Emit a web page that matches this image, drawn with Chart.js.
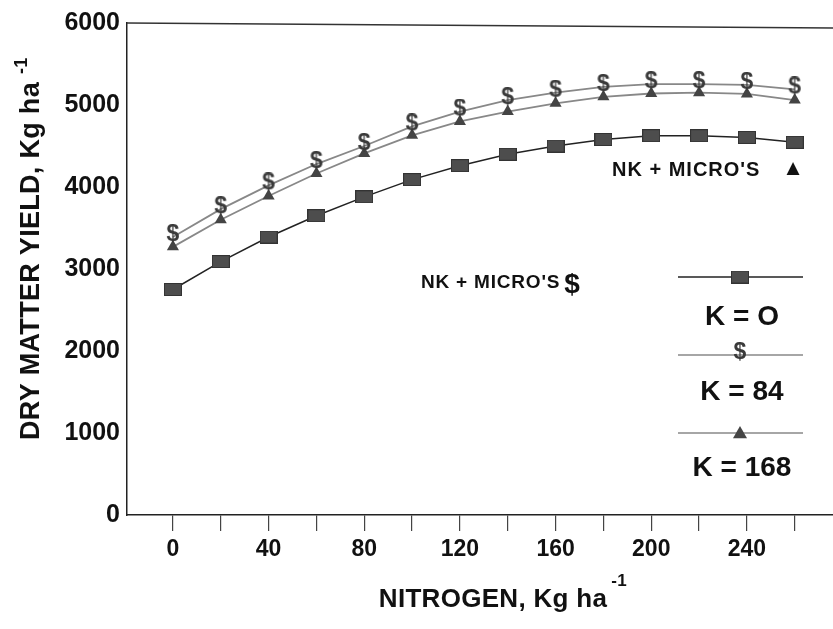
<!DOCTYPE html>
<html>
<head>
<meta charset="utf-8">
<script src="https://cdn.jsdelivr.net/npm/chart.js@4.4.1/dist/chart.umd.min.js"></script>
<style>
  html, body { margin: 0; padding: 0; background: #fff; }
  canvas { display: block; }
</style>
</head>
<body>
<canvas id="yieldChart" width="833" height="629"></canvas>
<script>
// Nitrogen rates (kg/ha) and dry matter yields (kg/ha)
const nitrogen = [0, 20, 40, 60, 80, 100, 120, 140, 160, 180, 200, 220, 240, 260];
const yieldK0   = [2750, 3090, 3390, 3650, 3880, 4090, 4260, 4400, 4500, 4580, 4625, 4625, 4605, 4545];
const yieldK84  = [3390, 3730, 4020, 4280, 4500, 4740, 4920, 5060, 5150, 5220, 5255, 5255, 5245, 5190];
const yieldK168 = [3270, 3600, 3890, 4165, 4410, 4630, 4800, 4920, 5020, 5100, 5140, 5150, 5135, 5060];
const yTicks = [0, 1000, 2000, 3000, 4000, 5000, 6000];
const seriesLabels = ['K = O', 'K = 84', 'K = 168'];
const xTitle = 'NITROGEN, Kg ha';
const yTitle = 'DRY MATTER YIELD, Kg ha';
const unitSup = '-1';
const noteTriangle = "NK + MICRO'S";
const noteDollar = "NK + MICRO'S";

const FONT = '"Liberation Sans", Arial, Helvetica, sans-serif';

// marker images
function squareMarker() {
  const c = document.createElement('canvas');
  c.width = 18; c.height = 13;
  const g = c.getContext('2d');
  g.fillStyle = '#4d4d4d';
  g.fillRect(0, 0, 18, 13);
  g.strokeStyle = '#333';
  g.strokeRect(0.5, 0.5, 17, 12);
  return c;
}
function dollarMarker() {
  const c = document.createElement('canvas');
  c.width = 18; c.height = 26;
  const g = c.getContext('2d');
  g.fillStyle = '#3a3a3a';
  g.font = 'bold 23px ' + FONT;
  g.textAlign = 'center';
  g.textBaseline = 'middle';
  g.fillText('$', 9, 11);
  return c;
}
const sqImg = squareMarker();
const dolImg = dollarMarker();

const toPoints = arr => arr.map((v, i) => ({ x: nitrogen[i], y: v }));

// titles, frame, legend and notes
const extrasPlugin = {
  id: 'extras',
  afterDraw(chart) {
    const ctx = chart.ctx;
    const a = chart.chartArea;
    ctx.save();

    // top frame line
    ctx.strokeStyle = '#333';
    ctx.lineWidth = 1.5;
    ctx.beginPath();
    ctx.moveTo(a.left, a.top);
    ctx.lineTo(a.right, a.top + 5);
    ctx.stroke();

    ctx.fillStyle = '#111';
    ctx.textBaseline = 'middle';

    // x title with superscript
    ctx.font = 'bold 26px ' + FONT;
    ctx.letterSpacing = '0.3px';
    const xw = ctx.measureText(xTitle).width;
    const xc = 493, xy = 600;
    ctx.textAlign = 'left';
    ctx.fillText(xTitle, xc - xw / 2, xy);
    ctx.font = 'bold 17px ' + FONT;
    ctx.fillText(unitSup, xc + xw / 2 + 4, xy - 19);

    // y title with superscript
    ctx.save();
    ctx.translate(32, 245);
    ctx.rotate(-Math.PI / 2);
    ctx.font = 'bold 27px ' + FONT;
    const yw = ctx.measureText(yTitle).width;
    ctx.fillText(yTitle, -yw / 2 - 16, 0);
    ctx.font = 'bold 18px ' + FONT;
    ctx.fillText(unitSup, yw / 2 - 8, -10);
    ctx.restore();
    ctx.letterSpacing = '0px';

    // legend
    const legX1 = 678, legX2 = 803, legC = 740;
    const lineY = [277, 355, 433];
    const textY = [317, 392, 468];
    chart.data.datasets.forEach((ds, i) => {
      ctx.strokeStyle = ds.borderColor;
      ctx.lineWidth = 1.5;
      ctx.beginPath();
      ctx.moveTo(legX1, lineY[i]);
      ctx.lineTo(legX2, lineY[i]);
      ctx.stroke();
      if (ds.pointStyle === 'triangle') {
        const r = ds.pointRadius;
        ctx.fillStyle = ds.pointBackgroundColor;
        ctx.beginPath();
        ctx.moveTo(legC, lineY[i] - r);
        ctx.lineTo(legC + r, lineY[i] + r * 0.75);
        ctx.lineTo(legC - r, lineY[i] + r * 0.75);
        ctx.closePath();
        ctx.fill();
      } else {
        const img = ds.pointStyle;
        ctx.drawImage(img, legC - img.width / 2, lineY[i] - img.height / 2);
      }
      ctx.fillStyle = '#111';
      ctx.font = 'bold 28px ' + FONT;
      ctx.textAlign = 'center';
      ctx.fillText(seriesLabels[i], legC + 2, textY[i]);
    });

    // notes
    ctx.fillStyle = '#111';
    ctx.textAlign = 'left';
    ctx.font = 'bold 20px ' + FONT;
    ctx.letterSpacing = '1px';
    ctx.fillText(noteTriangle, 612, 170);
    ctx.font = 'bold 19px ' + FONT;
    ctx.letterSpacing = '0.8px';
    ctx.fillText(noteDollar, 421, 283);
    ctx.letterSpacing = '0px';
    ctx.font = '17px "DejaVu Sans"';
    ctx.textAlign = 'center';
    ctx.fillText('\u25B2', 793, 169);
    ctx.font = 'bold 28px ' + FONT;
    ctx.fillText('$', 572, 285);

    ctx.restore();
  }
};

new Chart(document.getElementById('yieldChart'), {
  type: 'line',
  data: {
    datasets: [
      {
        label: seriesLabels[0],
        data: toPoints(yieldK0),
        borderColor: '#222',
        borderWidth: 1.5,
        pointStyle: sqImg,
        pointBackgroundColor: '#4d4d4d',
        tension: 0,
        parsing: false
      },
      {
        label: seriesLabels[1],
        data: toPoints(yieldK84),
        borderColor: '#888',
        borderWidth: 1.8,
        pointStyle: dolImg,
        pointBackgroundColor: '#444',
        tension: 0,
        parsing: false
      },
      {
        label: seriesLabels[2],
        data: toPoints(yieldK168),
        borderColor: '#888',
        borderWidth: 1.8,
        pointStyle: 'triangle',
        pointRadius: 7,
        pointBackgroundColor: '#444',
        pointBorderWidth: 0,
        tension: 0,
        parsing: false
      }
    ]
  },
  options: {
    responsive: false,
    animation: false,
    events: [],
    layout: { autoPadding: false, padding: { top: 23, right: 0, left: 0, bottom: 0 } },
    plugins: { legend: { display: false }, tooltip: { enabled: false } },
    scales: {
      x: {
        type: 'linear',
        min: -19.2,
        max: 276,
        afterBuildTicks: s => { s.ticks = nitrogen.map(v => ({ value: v })); },
        afterFit: s => { s.height = 114; s.paddingLeft = 0; s.paddingRight = 0; },
        grid: { drawOnChartArea: false, drawTicks: true, tickLength: 16, color: '#444', lineWidth: 1.2 },
        border: { display: true, color: '#222', width: 1.5 },
        ticks: {
          autoSkip: false,
          maxRotation: 0,
          padding: 5,
          color: '#111',
          font: { family: FONT, size: 23, weight: 'bold' },
          callback: v => (v % 40 === 0 ? String(v) : '')
        }
      },
      y: {
        min: 0,
        max: 6000,
        afterBuildTicks: s => { s.ticks = yTicks.map(v => ({ value: v })); },
        afterFit: s => { s.width = 127; },
        grid: { display: false, drawTicks: false },
        border: { display: true, color: '#222', width: 1.5 },
        ticks: {
          padding: 7,
          color: '#111',
          font: { family: FONT, size: 25, weight: 'bold' },
          callback: v => String(v)
        }
      }
    }
  },
  plugins: [extrasPlugin]
});
</script>
</body>
</html>
